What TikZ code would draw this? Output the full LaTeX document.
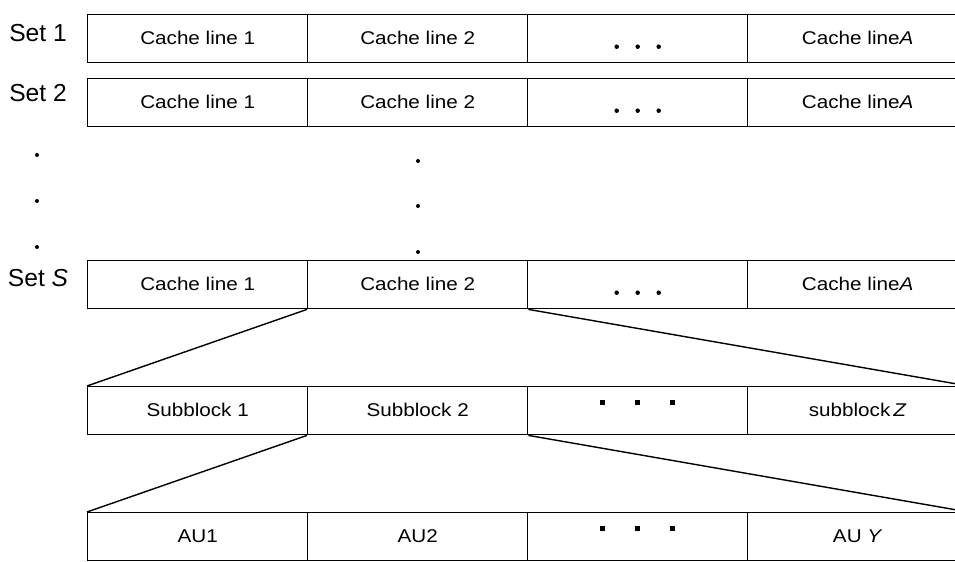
\documentclass[tikz,border=0pt]{standalone}
\usepackage{fontspec}
\setmainfont{Liberation Sans}
\newfontfamily\cellfam{Liberation Sans}[FakeStretch=1.12]
\usepackage{tikz}
\usetikzlibrary{positioning}
\tikzset{
    cellbox/.style={
        draw, anchor=north west, inner sep=0pt,
        minimum width=4.4cm, minimum height=0.96cm,
        text height=1.6ex, text depth=0.3ex,
        font=\cellfam\fontsize{10.5}{12}\selectfont,
        line width=0.8pt
    },
    setlabel/.style={
        font=\fontsize{14}{16}\selectfont, inner sep=0pt
    },
    fanline/.style={line width=0.8pt},
    rowdot/.style={circle, fill, inner sep=0pt, minimum size=0.8mm},
    celldot/.style={circle, fill, inner sep=0pt, minimum size=0.9mm},
    sqdot/.style={rectangle, fill, inner sep=0pt, minimum size=1.1mm}
}

\begin{document}
\begin{tikzpicture}
    \useasboundingbox (0,0) rectangle (19.1,-11.24);
    % Set rows
    \foreach \name/\y in {a/0.28, b/1.56, s/5.2} {
        \node[cellbox] (\name1) at (1.74,-\y) {Cache line 1};
        \node[cellbox] (\name2) at (6.14,-\y) {Cache line 2};
        \node[cellbox] (\name3) at (10.54,-\y) {};
        \node[cellbox] (\name4) at (14.94,-\y) {Cache line\textit{A}};
        \foreach \dx in {-0.42,0,0.42}
            \node[celldot] at ([xshift=\dx cm, yshift=-0.16cm]\name3.center) {};
    }
    \node[setlabel] (seta) at (0.76,-0.66) {Set 1};
    \node[setlabel] (setb) at (0.76,-1.86) {Set 2};
    \node[setlabel] (sets) at (0.76,-5.56) {Set \textit{S}};
    % Vertical dots between the sets
    \foreach \y in {3.10,4.02,4.94}
        \node[rowdot] at (0.74,-\y) {};
    \foreach \y in {3.22,4.12,5.04}
        \node[rowdot] at (8.36,-\y) {};
    % Subblock row
    \node[cellbox] (sb1) at (1.74,-7.72) {Subblock 1};
    \node[cellbox] (sb2) at (6.14,-7.72) {Subblock 2};
    \node[cellbox] (sb3) at (10.54,-7.72) {};
    \node[cellbox] (sb4) at (14.94,-7.72) {subblock\,\textit{Z}};
    \foreach \dx in {-0.7,0,0.7}
        \node[sqdot] at ([xshift=\dx cm, yshift=0.16cm]sb3.center) {};
    % AU row
    \node[cellbox] (au1) at (1.74,-10.24) {AU1};
    \node[cellbox] (au2) at (6.14,-10.24) {AU2};
    \node[cellbox] (au3) at (10.54,-10.24) {};
    \node[cellbox] (au4) at (14.94,-10.24) {AU \textit{Y}};
    \foreach \dx in {-0.7,0,0.7}
        \node[sqdot] at ([xshift=\dx cm, yshift=0.16cm]au3.center) {};
    % Fan-out lines
    \draw[fanline] (s2.south west) -- (sb1.north west);
    \draw[fanline] (s2.south east) -- (sb4.north east);
    \draw[fanline] (sb2.south west) -- (au1.north west);
    \draw[fanline] (sb2.south east) -- (au4.north east);
\end{tikzpicture}
\end{document}
